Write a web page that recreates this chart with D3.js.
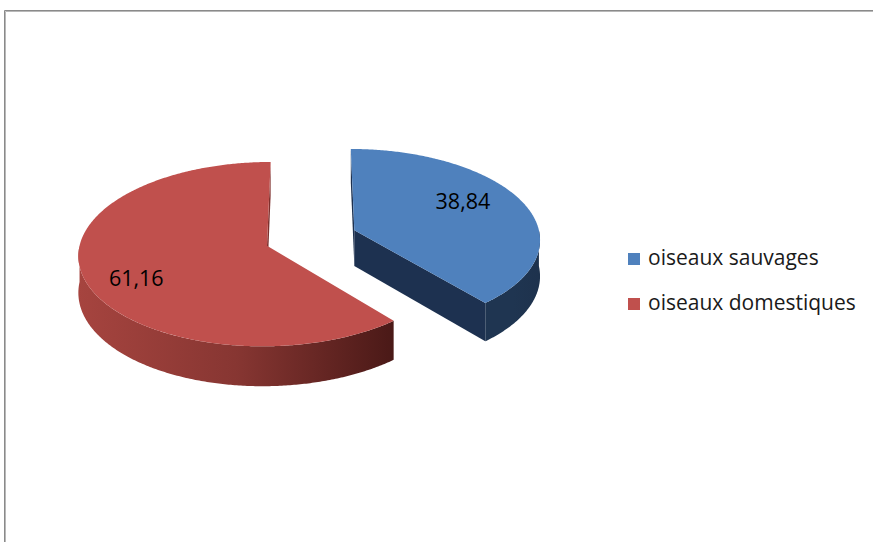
<!DOCTYPE html>
<html>
<head>
<meta charset="utf-8">
<script src="https://cdn.jsdelivr.net/npm/d3@7/dist/d3.min.js"></script>
<style>
  html, body { margin: 0; padding: 0; background: #ffffff; }
  svg { display: block; }
</style>
</head>
<body>
<div id="chart"></div>
<script>
// ---- data ----
const categories = ["oiseaux sauvages", "oiseaux domestiques"];
const values = [38.84, 61.16];
const topColors = ["#4F81BD", "#C0504D"];
const wallColors = [["#1F3551", "#1F3551", "#1E324D"], ["#A6443F", "#873632", "#4A1917"]];
const faceColors = ["#1D3150", "#7E302D"];

// ---- layout ----
const W = 873, H = 542;
const cx = 311, cy = 238, rx = 186, ry = 90, depth = 36, persp = 0.09, explode = 0.25;
const labelR = 0.65;
const labelNudge = [[-1, -10], [-13, 12]];
const fmt = d3.formatLocale({decimal: ",", thousands: " ", grouping: [3], currency: ["", ""]}).format(".2f");

const svg = d3.select("#chart").append("svg").attr("width", W).attr("height", H);
svg.append("rect").attr("width", W).attr("height", H).attr("fill", "#ffffff");

// frame (chart area border, cut by the picture edges)
svg.append("path").attr("d", `M4.5,${H} V10.5 H${W}`).attr("fill", "none").attr("stroke", "#8a8a8a").attr("stroke-width", 1);
svg.append("path").attr("d", `M5.5,${H} V11.5 H${W}`).attr("fill", "none").attr("stroke", "#b8b8b8").attr("stroke-width", 1);

const xs = d3.scaleLinear().domain([-1, 1]).range([cx - rx, cx + rx]);
const ys = d3.scaleLinear().domain([-1, 1]).range([cy - ry, cy + ry]);

const arcs = d3.pie().sort(null).value(d => d)(values);

function P(arc, r, a, h) {
  const m = (arc.startAngle + arc.endAngle) / 2;
  const u = explode * Math.sin(m) + r * Math.sin(a);
  const v = -explode * Math.cos(m) - r * Math.cos(a);
  const s = 1 / (1 - persp * v);
  return [xs(u * s), ys(v * s) + h * depth * s];
}
function samples(a0, a1) {
  const n = Math.max(2, Math.ceil(Math.abs(a1 - a0) / 0.01));
  return d3.range(n + 1).map(i => a0 + (a1 - a0) * i / n);
}
function area(pts) {
  let s = 0;
  for (let i = 0; i < pts.length; i++) {
    const p = pts[i], q = pts[(i + 1) % pts.length];
    s += p[0] * q[1] - q[0] * p[1];
  }
  return s / 2;
}
const line = d3.line();

const defs = svg.append("defs");
const sides = svg.append("g");
const tops = svg.append("g");
const labelsG = svg.append("g");

arcs.forEach((arc, i) => {
  const a0 = arc.startAngle, a1 = arc.endAngle;
  // radial faces
  const f0 = [P(arc, 0, a0, 0), P(arc, 1, a0, 0), P(arc, 1, a0, 1), P(arc, 0, a0, 1)];
  const f1 = [P(arc, 0, a1, 0), P(arc, 1, a1, 0), P(arc, 1, a1, 1), P(arc, 0, a1, 1)];
  if (area(f0) < 0) sides.append("path").attr("d", line(f0) + "Z").attr("fill", faceColors[i]);
  if (area(f1) > 0) sides.append("path").attr("d", line(f1) + "Z").attr("fill", faceColors[i]);
  // outer wall (front half)
  const w0 = Math.max(a0, Math.PI / 2), w1 = Math.min(a1, 3 * Math.PI / 2);
  if (w1 > w0) {
    const angs = samples(w0, w1);
    const topPts = angs.map(a => P(arc, 1, a, 0));
    const botPts = angs.slice().reverse().map(a => P(arc, 1, a, 1));
    const pts = topPts.concat(botPts);
    const xExt = d3.extent(pts, p => p[0]);
    const gid = "wallGrad" + i;
    const g = defs.append("linearGradient").attr("id", gid)
      .attr("gradientUnits", "userSpaceOnUse")
      .attr("x1", xExt[0]).attr("x2", xExt[1]).attr("y1", 0).attr("y2", 0);
    wallColors[i].forEach((c, k, arr) => g.append("stop").attr("offset", k / (arr.length - 1)).attr("stop-color", c));
    sides.append("path").attr("d", line(pts) + "Z").attr("fill", `url(#${gid})`);
  }
  // top surface
  const topPath = [P(arc, 0, a0, 0)].concat(samples(a0, a1).map(a => P(arc, 1, a, 0)));
  tops.append("path").attr("d", line(topPath) + "Z").attr("fill", topColors[i]);

  // value label
  const m = (a0 + a1) / 2;
  const lp = P(arc, labelR, m, 0);
  labelsG.append("text")
    .attr("x", lp[0] + labelNudge[i][0])
    .attr("y", lp[1] + labelNudge[i][1])
    .attr("dy", "0.36em")
    .attr("text-anchor", "middle")
    .attr("font-family", "'Open Sans', sans-serif")
    .attr("font-size", 21.5)
    .attr("fill", "#000000")
    .text(fmt(values[i]));
});

// legend
const legendX = 628, legendY0 = 259, legendStep = 45, sq = 12;
const lg = svg.append("g");
categories.forEach((c, i) => {
  const yc = legendY0 + i * legendStep;
  lg.append("rect").attr("x", legendX).attr("y", yc - sq / 2).attr("width", sq).attr("height", sq).attr("fill", topColors[i]);
  lg.append("text").attr("x", legendX + 20).attr("y", yc + 6)
    .attr("font-family", "'Open Sans', sans-serif").attr("font-size", 21)
    .attr("fill", "#1a1a1a").text(c);
});
</script>
</body>
</html>
